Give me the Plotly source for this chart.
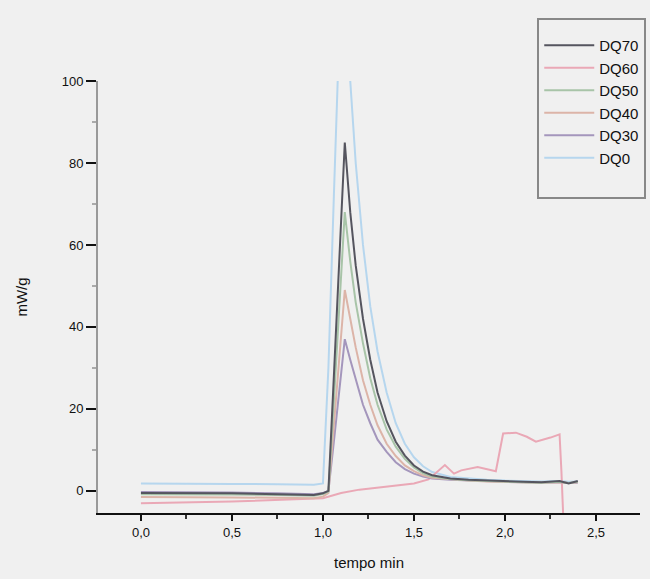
import plotly.graph_objects as go

# shared time grid (min) for the exothermic peaks
t = [0.0, 0.25, 0.5, 0.75, 0.95, 1.0, 1.03, 1.06, 1.09, 1.12, 1.15, 1.18, 1.22, 1.26,
     1.3, 1.35, 1.4, 1.45, 1.5, 1.55, 1.6, 1.7, 1.8, 1.9, 2.0, 2.1, 2.2, 2.3, 2.35, 2.4]

dq70 = [-0.5, -0.5, -0.6, -0.8, -1.0, -0.6, 0.0, 28, 58, 85, 68, 55, 42, 32,
        24, 17, 12, 8.6, 6.2, 4.7, 3.8, 3.0, 2.7, 2.5, 2.3, 2.2, 2.1, 2.4, 1.8, 2.4]
dq50 = [-0.8, -0.8, -0.9, -1.0, -1.2, -0.8, -0.2, 22, 46, 68, 56, 46, 36, 27.5,
        21, 15, 10.8, 7.8, 5.7, 4.3, 3.5, 2.9, 2.6, 2.4, 2.2, 2.1, 2.0, 2.2, 1.9, 2.2]
dq40 = [-1.5, -1.5, -1.6, -1.7, -1.8, -1.4, -0.5, 16, 33, 49, 42, 35, 27, 21,
        16, 11.5, 8.5, 6.2, 4.8, 3.8, 3.2, 2.8, 2.5, 2.3, 2.2, 2.1, 2.0, 2.1, 1.9, 2.1]
dq30 = [-0.3, -0.3, -0.4, -0.6, -0.8, -0.5, 0.0, 12, 25, 37, 32, 27, 21, 16.5,
        12.5, 9.5, 7.0, 5.3, 4.2, 3.5, 3.0, 2.7, 2.5, 2.3, 2.2, 2.1, 2.0, 2.1, 1.9, 2.0]
dq0 = [1.8, 1.8, 1.7, 1.6, 1.5, 1.8, 30, 72, 112, 128, 100, 80, 60, 45,
       34, 24, 16.5, 11.5, 8.2, 6.0, 4.6, 3.4, 3.0, 2.7, 2.5, 2.4, 2.3, 2.4, 2.2, 2.3]

# DQ60 trace with the late step pattern
t60 = [0.0, 0.5, 1.0, 1.1, 1.2, 1.3, 1.4, 1.5, 1.58, 1.63, 1.67, 1.72, 1.76, 1.85,
       1.95, 1.99, 2.06, 2.12, 2.17, 2.25, 2.3, 2.31, 2.32]
dq60 = [-3.0, -2.6, -1.8, -0.5, 0.3, 0.8, 1.2, 1.8, 2.8, 4.8, 6.3, 4.2, 5.0, 5.8,
        4.8, 14.0, 14.2, 13.2, 12.0, 13.0, 13.8, 5.0, -6.0]

series = [
    ("DQ0", t, dq0, "#b6d6ee"),
    ("DQ60", t60, dq60, "#eaa8b6"),
    ("DQ30", t, dq30, "#a496bc"),
    ("DQ40", t, dq40, "#dcb4a8"),
    ("DQ50", t, dq50, "#a8c4a8"),
    ("DQ70", t, dq70, "#55555f"),
]
legend_rank = {"DQ70": 1, "DQ60": 2, "DQ50": 3, "DQ40": 4, "DQ30": 5, "DQ0": 6}

xticks = [0.0, 0.5, 1.0, 1.5, 2.0, 2.5]
xticklabels = ["0,0", "0,5", "1,0", "1,5", "2,0", "2,5"]
yticks = [0, 20, 40, 60, 80, 100]

fig = go.Figure()
for name, x, y, color in series:
    fig.add_trace(go.Scatter(x=x, y=y, mode="lines", name=name,
                             line=dict(color=color, width=2),
                             legendrank=legend_rank[name]))
# empty legend row (blank space at the bottom of the legend box)
fig.add_trace(go.Scatter(x=[None], y=[None], mode="lines", name=" ",
                         line=dict(color="rgba(0,0,0,0)"), legendrank=7,
                         hoverinfo="skip"))

font = "Liberation Sans, Arial, sans-serif"
fig.update_layout(
    width=650, height=579,
    margin=dict(l=98, r=10, t=81, b=66, autoexpand=False),
    paper_bgcolor="#f0f0f0", plot_bgcolor="#f0f0f0",
    font=dict(family=font, color="#111", size=12),
    showlegend=True,
    legend=dict(x=0.8104, y=1.146, xanchor="left", yanchor="top",
                bgcolor="#f0f0f0", bordercolor="#888", borderwidth=2,
                font=dict(size=15, color="#111"), itemwidth=50,
                tracegroupgap=0,
                title=dict(text=".", font=dict(size=7, color="#f0f0f0"))),
    xaxis=dict(range=[-0.236, 2.742], tickvals=xticks, ticktext=xticklabels,
               showgrid=False, zeroline=False, showline=True, linecolor="#111",
               linewidth=2, ticks="outside", ticklen=6, tickwidth=2, tickcolor="#111",
               minor=dict(dtick=0.25, tick0=0, ticks="outside", ticklen=4,
                          tickwidth=2, tickcolor="#333"),
               title=dict(text="tempo min", font=dict(size=15), standoff=19),
               tickfont=dict(size=13)),
    yaxis=dict(range=[-5.4, 100], tickvals=yticks, showgrid=False, zeroline=False,
               showline=True, linecolor="#999", linewidth=2, ticks="outside",
               ticklen=10, tickwidth=2, tickcolor="#111",
               minor=dict(dtick=10, tick0=0, ticks="outside", ticklen=4,
                          tickwidth=2, tickcolor="#aaa"),
               title=dict(text="mW/g", font=dict(size=15), standoff=30),
               tickfont=dict(size=13)),
)

fig.write_html("out.html")
